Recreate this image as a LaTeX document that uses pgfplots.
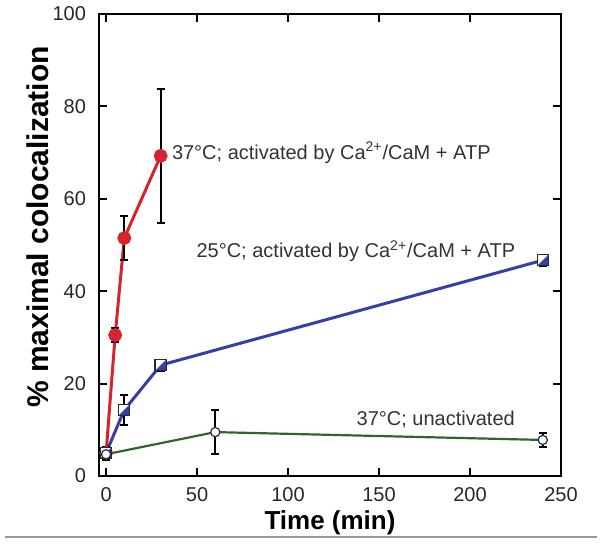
\documentclass[border=0pt]{standalone}
\usepackage{pgfplots}
\pgfplotsset{compat=1.18}
\usepackage{fontspec}
\setmainfont{Liberation Sans}
\definecolor{redc}{RGB}{214,36,46}
\definecolor{bluec}{RGB}{55,62,165}
\definecolor{greenc}{RGB}{50,100,45}
\definecolor{edgec}{RGB}{40,40,60}
\pgfdeclareplotmark{diagsq}{%
  \pgfpathrectangle{\pgfpoint{-\pgfplotmarksize}{-\pgfplotmarksize}}{\pgfpoint{2\pgfplotmarksize}{2\pgfplotmarksize}}%
  \pgfsetfillcolor{white}\pgfusepath{fill}%
  \pgfpathmoveto{\pgfpoint{\pgfplotmarksize}{\pgfplotmarksize}}%
  \pgfpathlineto{\pgfpoint{\pgfplotmarksize}{-\pgfplotmarksize}}%
  \pgfpathlineto{\pgfpoint{-\pgfplotmarksize}{-\pgfplotmarksize}}%
  \pgfpathclose
  \pgfsetfillcolor{bluec}\pgfusepath{fill}%
  \pgfpathrectangle{\pgfpoint{-\pgfplotmarksize}{-\pgfplotmarksize}}{\pgfpoint{2\pgfplotmarksize}{2\pgfplotmarksize}}%
  \pgfusepath{stroke}%
}
\begin{document}
\begin{tikzpicture}
\useasboundingbox (-49.5pt,-36.5pt) rectangle (250.5pt,238pt);
\begin{axis}[
  at={(0,0)}, anchor=south west,
  scale only axis, width=231pt, height=231pt,
  xmin=-3.9, xmax=250, ymin=0, ymax=100,
  xtick={0,50,100,150,200,250},
  ytick={0,20,40,60,80,100},
  tick align=inside,
  major tick length=4pt,
  tick style={line width=1pt, black},
  axis line style={line width=1pt},
  /pgf/number format/assume math mode=true,
  tick label style={font=\fontsize{10}{12}\selectfont, text=black!85},
  yticklabel style={xshift=-3pt},
  xticklabel style={yshift=-2pt},
  xlabel={\textbf{Time (min)}},
  ylabel={\textbf{\% maximal colocalization}},
  xlabel style={font=\fontsize{13}{15}\selectfont, yshift=2pt},
  ylabel style={font=\fontsize{15}{17}\selectfont, at={(axis description cs:-0.132,0.539)}, anchor=center, rotate=0},
  clip=false,
  error bars/y dir=both,
  error bars/y explicit,
  error bars/error bar style={black, line width=0.9pt},
  error bars/error mark options={rotate=90, mark size=2pt, black, line width=0.9pt},
]
\addplot[redc, line width=1.5pt, mark=*, mark size=2.7pt, mark options={fill=redc, draw=redc}]
  coordinates {(0,5) +- (0,1.2) (5,30.5) +- (0,1.5) (10,51.5) +- (0,4.8) (30,69.3) +- (0,14.5)};
\addplot[bluec, line width=1.5pt, mark=diagsq, mark size=2.8pt, mark options={draw=edgec, line width=0.6pt}]
  coordinates {(0,5) +- (0,1.3) (10,14.3) +- (0,3.2) (30,24) +- (0,1.2) (240,46.7) +- (0,1.2)};
\addplot[greenc, line width=1.1pt, mark=*, mark size=2.3pt, mark options={fill=white, draw=edgec, line width=0.6pt}]
  coordinates {(0,4.7) +- (0,1.2) (60,9.5) +- (0,4.8) (240,7.8) +- (0,1.5)};
\node[anchor=west, font=\fontsize{10}{12}\selectfont, text=black!80, inner sep=0pt] at (axis cs:36,70) {37°C; activated by Ca\textsuperscript{\scriptsize 2+}/CaM + ATP};
\node[anchor=west, font=\fontsize{10}{12}\selectfont, text=black!80, inner sep=0pt] at (axis cs:49.5,48.6) {25°C; activated by Ca\textsuperscript{\scriptsize 2+}/CaM + ATP};
\node[anchor=west, font=\fontsize{10}{12}\selectfont, text=black!80, inner sep=0pt] at (axis cs:137.5,12.2) {37°C; unactivated};
\end{axis}
\draw[gray!80, line width=0.6pt] (-47pt,-30.5pt) -- (249pt,-30.5pt);
\end{tikzpicture}
\end{document}
